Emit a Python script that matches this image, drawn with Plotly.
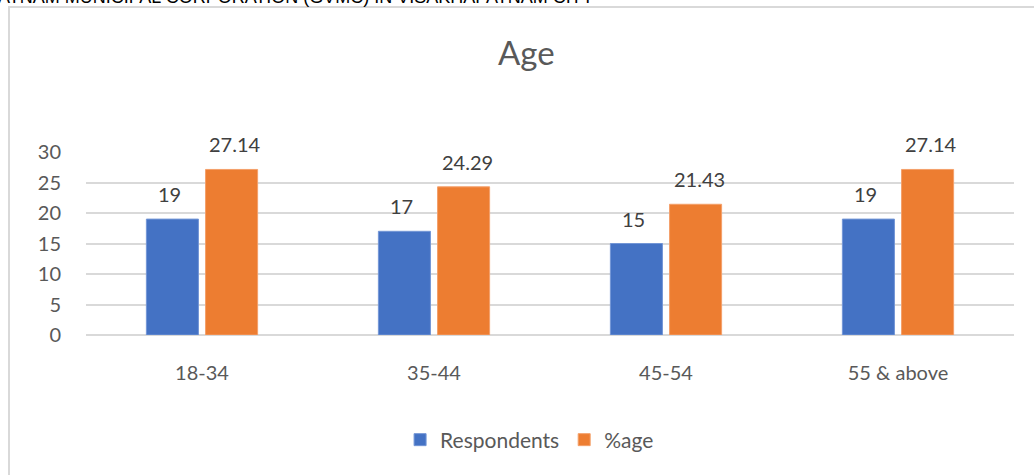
import plotly.graph_objects as go

categories = ["18-34", "35-44", "45-54", "55 & above"]
respondents = [19, 17, 15, 19]
percentage = [27.14, 24.29, 21.43, 27.14]
labels_resp = ["19", "17", "15", "19"]
labels_pct = ["27.14", "24.29", "21.43", "27.14"]

FONT = "Lato, Open Sans, sans-serif"
GREY = "#595959"
LABEL = "#404040"

L, R, T, B = 86, 20, 152, 140
W, H = 1034, 475
pw, ph = W - L - R, H - T - B

def px(x):
    return (x - L) / pw

def py(y):
    return (H - B - y) / ph

fig = go.Figure()
fig.add_trace(go.Bar(
    x=categories, y=respondents, name="Respondents",
    marker=dict(color="#4472C4", line=dict(color="#7396D6", width=1)),
))
fig.add_trace(go.Bar(
    x=categories, y=percentage, name="%age",
    marker=dict(color="#ED7D31", line=dict(color="#F4A06A", width=1)),
))

annotations = [
    dict(text="Age", xref="paper", yref="paper", x=px(526), y=py(52),
         xanchor="center", yanchor="middle", showarrow=False,
         font=dict(size=33, color=GREY, family=FONT)),
    dict(text="ATNAM MUNICIPAL CORPORATION (GVMC) IN VISAKHAPATNAM CITY",
         xref="paper", yref="paper", x=px(-4), y=py(9),
         xanchor="left", yanchor="bottom", showarrow=False,
         font=dict(size=18, color="black", family="Liberation Sans, Arial, sans-serif")),
]
for cat, v, t in zip(categories, respondents, labels_resp):
    annotations.append(dict(text=t, x=cat, y=v, xref="x", yref="y", xshift=-33, yshift=25,
                            xanchor="center", yanchor="middle", showarrow=False,
                            font=dict(size=20, color=LABEL, family=FONT)))
for cat, v, t in zip(categories, percentage, labels_pct):
    annotations.append(dict(text=t, x=cat, y=v, xref="x", yref="y", xshift=33, yshift=25,
                            xanchor="center", yanchor="middle", showarrow=False,
                            font=dict(size=20, color=LABEL, family=FONT)))

fig.update_layout(
    width=W, height=H,
    margin=dict(l=L, r=R, t=T, b=B),
    paper_bgcolor="white", plot_bgcolor="white",
    barmode="group", bargap=0.49, bargroupgap=0.12,
    font=dict(family=FONT, color=GREY),
    showlegend=True,
    legend=dict(orientation="h", x=0.478, xanchor="center", y=py(440), yanchor="middle",
                font=dict(size=21, color=GREY), itemwidth=30, tracegroupgap=0),
    xaxis=dict(showgrid=False, showline=False, ticks="", tickfont=dict(size=20, color=GREY),
               ticklabelstandoff=24),
    yaxis=dict(range=[0, 30], dtick=5, showgrid=True, gridcolor="#D9D9D9", gridwidth=1.5,
               zeroline=True, zerolinecolor="#D9D9D9", zerolinewidth=1.5,
               showline=False, ticks="", tickfont=dict(size=20, color=GREY),
               ticklabelstandoff=24),
    annotations=annotations,
    shapes=[
        dict(type="rect", xref="paper", yref="paper",
             x0=px(9), y0=py(500), x1=px(1050), y1=py(7),
             line=dict(color="#D9D9D9", width=2), fillcolor="rgba(0,0,0,0)", layer="below"),
    ],
)

fig.write_html("out.html")
